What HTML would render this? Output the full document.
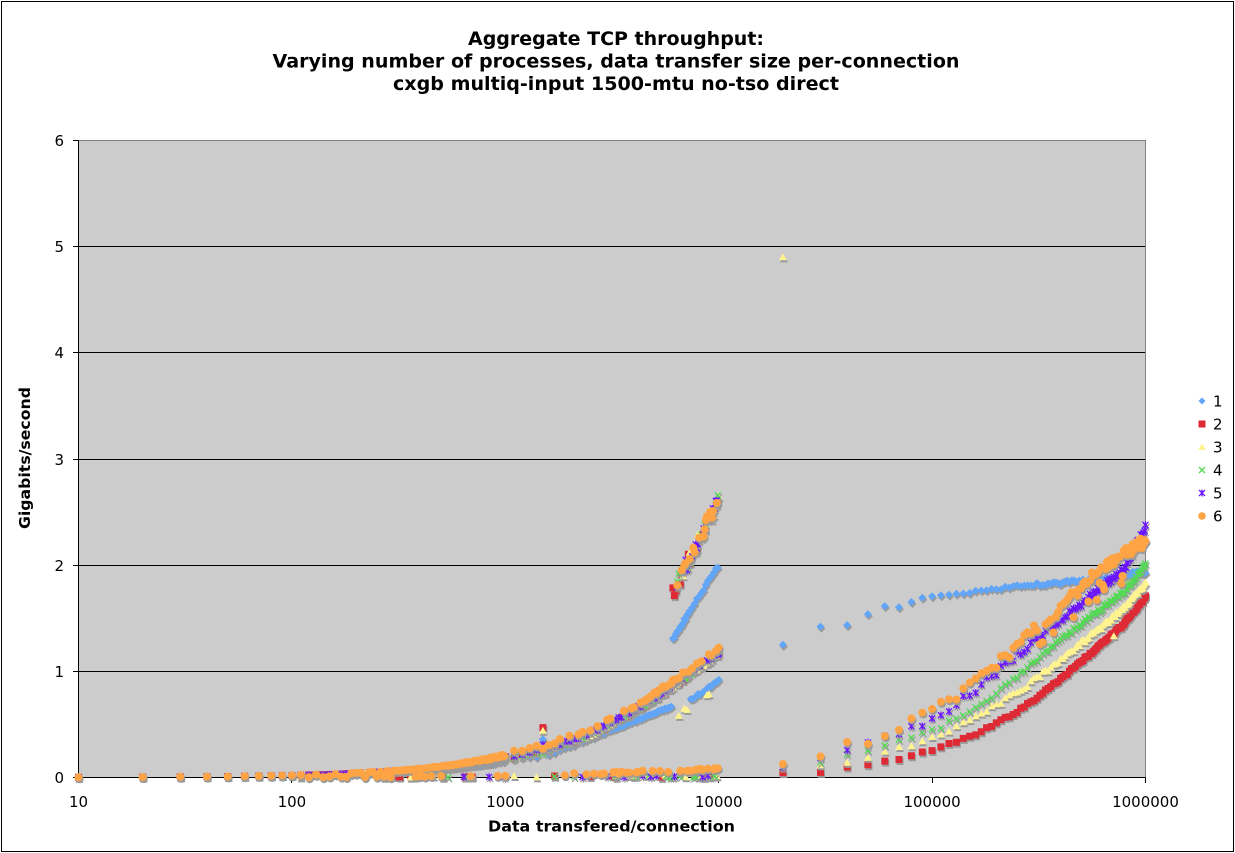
<!DOCTYPE html>
<html><head><meta charset="utf-8"><style>
html,body{margin:0;padding:0;background:#fff;}
svg{display:block;}
text{font-family:"DejaVu Sans","Liberation Sans",sans-serif;fill:#000;}
</style></head><body>
<svg width="1235" height="853" viewBox="0 0 1235 853">
<rect x="0" y="0" width="1235" height="853" fill="#fff"/>
<rect x="1.5" y="1.5" width="1232" height="850" fill="none" stroke="#000"/>
<text x="616" y="45" text-anchor="middle" font-size="19" font-weight="bold" textLength="296" lengthAdjust="spacingAndGlyphs">Aggregate TCP throughput:</text>
<text x="616" y="67.5" text-anchor="middle" font-size="19" font-weight="bold" textLength="687" lengthAdjust="spacingAndGlyphs">Varying number of processes, data transfer size per-connection</text>
<text x="616" y="90" text-anchor="middle" font-size="19" font-weight="bold" textLength="446" lengthAdjust="spacingAndGlyphs">cxgb multiq-input 1500-mtu no-tso direct</text>

<rect x="78.5" y="140.5" width="1067" height="637" fill="#cccccc"/>
<path d="M78.5 671.5H1145.5M78.5 565.5H1145.5M78.5 459.5H1145.5M78.5 352.5H1145.5M78.5 246.5H1145.5" stroke="#000" stroke-width="1"/>
<path d="M78.5 140.5H1145.5V777.5" stroke="#808080" fill="none"/>
<path d="M78.5 140.5V777.5H1145.5" stroke="#000" fill="none"/>
<path d="M73 140.5H78.5M73 246.5H78.5M73 352.5H78.5M73 459.5H78.5M73 565.5H78.5M73 671.5H78.5M73 777.5H78.5M78.5 777.5V783M291.5 777.5V783M505.5 777.5V783M718.5 777.5V783M932.5 777.5V783M1145.5 777.5V783" stroke="#000"/>

<g font-size="15" text-anchor="end">
<text x="64" y="783">0</text>
<text x="64" y="677">1</text>
<text x="64" y="571">2</text>
<text x="64" y="465">3</text>
<text x="64" y="358">4</text>
<text x="64" y="252">5</text>
<text x="64" y="146">6</text>
</g>
<g font-size="15" text-anchor="middle">
<text x="78.5" y="807">10</text>
<text x="291.9" y="807">100</text>
<text x="505.3" y="807">1000</text>
<text x="718.7" y="807">10000</text>
<text x="932.1" y="807">100000</text>
<text x="1145.5" y="807">1000000</text>
</g>
<text x="611.5" y="831.5" text-anchor="middle" font-size="15.5" font-weight="bold" textLength="247" lengthAdjust="spacingAndGlyphs">Data transfered/connection</text>
<text transform="translate(30,458) rotate(-90)" x="0" y="0" text-anchor="middle" font-size="15" font-weight="bold" textLength="142" lengthAdjust="spacingAndGlyphs">Gigabits/second</text>

<g id="data">
<path id="sh1" fill="#9a9a9a" transform="translate(1,2)"/><path id="p1" fill="#60a5f8"/>
<path id="sh2" fill="#9a9a9a" transform="translate(1,2)"/><path id="p2" fill="#dd2a35"/>
<path id="sh3" fill="#9a9a9a" transform="translate(1,2)"/><path id="p3" fill="#fff38f"/>
<path id="sh4" fill="none" stroke="#9a9a9a" stroke-width="1.3" transform="translate(1,2)"/><path id="p4" fill="none" stroke="#50dc50" stroke-width="1.3"/>
<path id="sh5" fill="none" stroke="#9a9a9a" stroke-width="1.3" transform="translate(1,2)"/><path id="p5" fill="none" stroke="#6a14ff" stroke-width="1.3"/>
<path id="sh6" fill="#9a9a9a" transform="translate(1,2)"/><path id="p6" fill="#ffa445"/>
</g>

<g id="legend">
<path d="M1202 397.5L1205.5 401L1202 404.5L1198.5 401Z" fill="#60a5f8"/>
<path d="M1198.5 420.5h7v7h-7Z" fill="#dd2a35"/>
<path d="M1202 443.5L1205.8 450L1198.2 450Z" fill="#fff38f"/>
<path d="M1199 467L1205 473M1205 467L1199 473" stroke="#50dc50" stroke-width="1.3" fill="none"/>
<path d="M1199 490L1205 496M1205 490L1199 496M1202 489.5V496.5" stroke="#6a14ff" stroke-width="1.3" fill="none"/>
<circle cx="1202" cy="516" r="3.8" fill="#ffa445"/>
</g>
<g font-size="15">
<text x="1213" y="406.5">1</text>
<text x="1213" y="429.5">2</text>
<text x="1213" y="452.5">3</text>
<text x="1213" y="475.5">4</text>
<text x="1213" y="498.5">5</text>
<text x="1213" y="521.5">6</text>
</g>
</svg>
<script>
(function(){
var seed=987654;
function rnd(){seed|=0;seed=seed+0x6D2B79F5|0;var t=Math.imul(seed^seed>>>15,1|seed);t=t+Math.imul(t^t>>>7,61|t)^t;return((t^t>>>14)>>>0)/4294967296;}
function n(){return (rnd()-0.5)*2;}
function interp(p,lx){if(lx<=p[0][0])return p[0][1];for(var i=1;i<p.length;i++){if(lx<=p[i][0]){var a=p[i-1],b=p[i];return a[1]+(b[1]-a[1])*(lx-a[0])/(b[0]-a[0]);}}return p[p.length-1][1];}
function X(v){return 78.5+(Math.log10(v)-1)*213.4;}
function Y(v){return 777.5-v*106.17;}
var M=[[3,0.19],[3.2,0.28],[3.4,0.42],[3.5,0.53],[3.6,0.64],[3.7,0.76],[3.8,0.9],[3.9,1.04],[4,1.18]];
var B=[[3,0.15],[3.2,0.22],[3.4,0.37],[3.6,0.53],[3.77,0.66],[3.8,0.68]];
var BH=[[4.301,1.25],[4.477,1.42],[4.602,1.45],[4.699,1.53],[4.778,1.6],[4.845,1.61],[4.903,1.65],[4.954,1.68],[5,1.7],[5.3,1.78],[5.5,1.82],[5.7,1.85],[5.85,1.87],[5.95,1.93],[6,1.93]];
var C={
2:[[4.3,0.05],[4.477,0.06],[4.6,0.09],[4.7,0.12],[4.85,0.18],[5,0.25],[5.2,0.4],[5.4,0.62],[5.6,0.92],[5.8,1.27],[5.9,1.45],[6,1.7]],
3:[[4.3,0.08],[4.477,0.1],[4.6,0.14],[4.7,0.19],[4.85,0.27],[5,0.37],[5.2,0.56],[5.4,0.8],[5.6,1.1],[5.8,1.43],[5.9,1.6],[6,1.82]],
4:[[4.3,0.1],[4.477,0.15],[4.6,0.2],[4.7,0.25],[4.85,0.35],[5,0.44],[5.2,0.64],[5.4,0.96],[5.6,1.3],[5.8,1.6],[5.9,1.75],[6,2.0]],
5:[[4.3,0.12],[4.477,0.19],[4.6,0.25],[4.7,0.31],[4.85,0.41],[5,0.54],[5.2,0.82],[5.4,1.16],[5.6,1.48],[5.8,1.8],[5.9,1.97],[6,2.35]],
6:[[4.3,0.15],[4.477,0.23],[4.6,0.3],[4.7,0.36],[4.85,0.49],[5,0.63],[5.2,0.9],[5.4,1.25],[5.6,1.6],[5.75,1.9],[5.9,2.1],[6,2.23]]
};
var NZ={2:0.012,3:0.02,4:0.02,5:0.03,6:0.05};
var xs=[],v;
for(v=10;v<=100;v+=10)xs.push(v);
for(v=110;v<=1000;v+=10)xs.push(v);
for(v=1100;v<=10000;v+=100)xs.push(v);
for(v=20000;v<=100000;v+=10000)xs.push(v);
for(v=110000;v<=1000000;v+=10000)xs.push(v);

function val(s,v,i){
  var lx=Math.log10(v);
  if(v<=1000){
    var k=[0,0.16,0.19,0.19,0.19,0.195,0.21][s];
    if(s>1&&v>=100&&rnd()<(s==6?0.2:0.05))return Math.abs(n())*0.01+(s==6?v/1000*0.01:0);
    return k*v/1000*(1+0.05*n());
  }
  if(v<=10000){
    if(v==1500)return [0,0.36,0.47,0.44,0.22,0.31,0.27][s];
    if(s==1){
      if(lx<3.785)return interp(B,lx)+0.01*n();
      if(lx>=3.86&&i%2==1)return 0.72+(lx-3.86)/0.14*0.19+0.01*n();
      return 1.34+(lx-3.795)/0.195*0.63+0.015*n();
    }
    var off=[0,0,-0.02,-0.02,-0.015,0,0.03][s];
    var zp=s==6?0.35:0.12;
    if(rnd()<zp){return s==6?0.01+0.07*(lx-3)+0.01*n():Math.abs(n())*0.02;}
    if(lx>=3.78){
      var q=rnd();
      if(s==3&&q<0.15)return 0.55+(lx-3.78)/0.22*0.32+0.02*n();
      if(q<0.55)return 1.72+(lx-3.78)/0.22*0.9+0.07*n();
    }
    return interp(M,lx)+off+0.015*n();
  }
  if(s==1)return interp(BH,lx)+0.015*n();
  if(s==3&&v==20000)return 4.9;
  var y=interp(C[s],lx)+NZ[s]*n();
  if(s==6&&lx>5.1&&lx<5.9&&rnd()<0.18)y-=0.15+0.1*rnd();
  if(s==3&&lx>5.8&&rnd()<0.04)y-=0.2;
  return y;
}
function f(a){return a.toFixed(1);}
var shape={
1:function(x,y){return "M"+f(x)+" "+f(y-4)+"L"+f(x+4)+" "+f(y)+"L"+f(x)+" "+f(y+4)+"L"+f(x-4)+" "+f(y)+"Z";},
2:function(x,y){return "M"+f(x-3.5)+" "+f(y-3.5)+"h7v7h-7Z";},
3:function(x,y){return "M"+f(x)+" "+f(y-4)+"L"+f(x+4)+" "+f(y+3)+"L"+f(x-4)+" "+f(y+3)+"Z";},
4:function(x,y){return "M"+f(x-3)+" "+f(y-3)+"L"+f(x+3)+" "+f(y+3)+"M"+f(x+3)+" "+f(y-3)+"L"+f(x-3)+" "+f(y+3);},
5:function(x,y){return "M"+f(x-3)+" "+f(y-3)+"L"+f(x+3)+" "+f(y+3)+"M"+f(x+3)+" "+f(y-3)+"L"+f(x-3)+" "+f(y+3)+"M"+f(x)+" "+f(y-3.6)+"L"+f(x)+" "+f(y+3.6);},
6:function(x,y){return "M"+f(x-4)+" "+f(y)+"a4 4 0 1 0 8 0a4 4 0 1 0 -8 0Z";}
};
for(var s=1;s<=6;s++){
  var d=[];
  for(var i=0;i<xs.length;i++){
    var yv=val(s,xs[i],i);
    if(yv<0)yv=Math.abs(yv)*0.3;
    d.push(shape[s](X(xs[i]),Y(yv)));
  }
  var ds=d.join("");
  document.getElementById("p"+s).setAttribute("d",ds);
  document.getElementById("sh"+s).setAttribute("d",ds);
}
})();
</script>
</body></html>
